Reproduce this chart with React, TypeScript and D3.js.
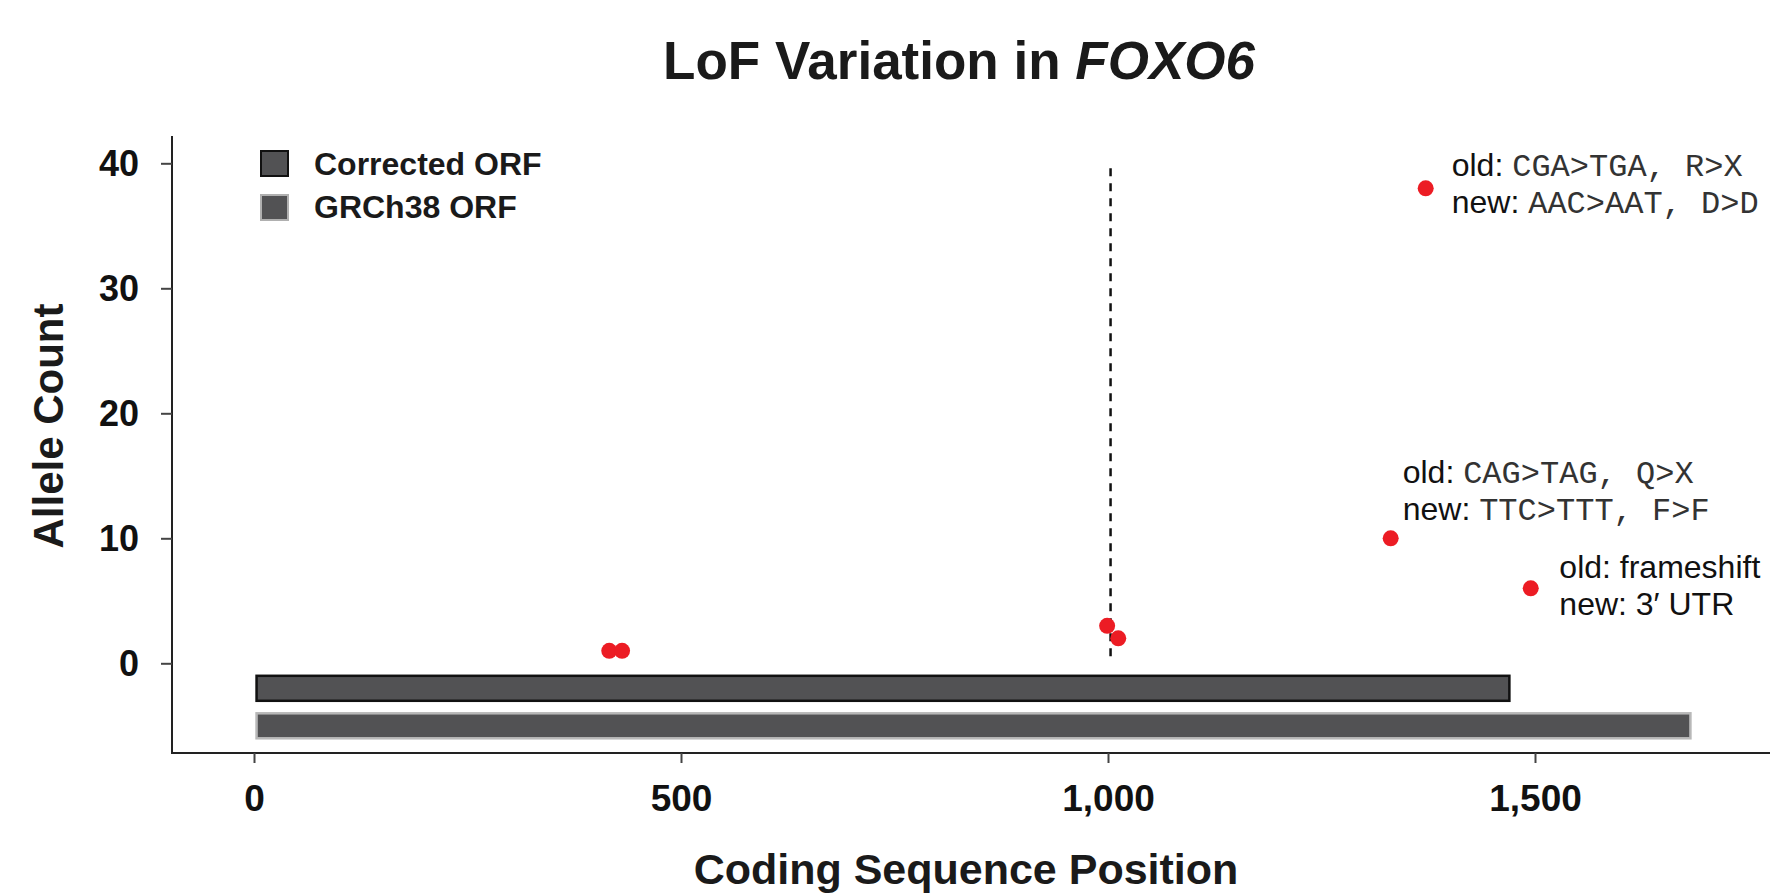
import React, { useEffect, useRef } from 'react';
import * as d3 from 'd3';

// variant positions (CDS) and allele counts
const variantPos = [416, 431, 999, 1012, 1331, 1372, 1495];
const alleleCounts = [1, 1, 3, 2, 10, 38, 6];

// ORF bars
const orfNames = ['Corrected ORF', 'GRCh38 ORF'];
const orfStart = [3, 3];
const orfEnd = [1470, 1682];
const orfTop = [-1, -4];
const orfBottom = [-3, -6];

const xTicks = [0, 500, 1000, 1500];
const yTicks = [0, 10, 20, 30, 40];
const frameshiftPos = 1003;

// labels next to some points: index into the variant arrays
const notePoint = [5, 4, 6];
const noteOld = ['CGA>TGA, R>X', 'CAG>TAG, Q>X', 'frameshift'];
const noteNew = ['AAC>AAT, D>D', 'TTC>TTT, F>F', '3\u2032 UTR'];
const noteMono = [true, true, false];

const W = 1770;
const H = 894;
const SANS = '"Liberation Sans", Arial, Helvetica, sans-serif';
const MONO = '"Liberation Mono", "Courier New", monospace';
const BAR_FILL = '#525254';
const RED = '#ec1c24';

const App = () => {
  const ref = useRef<SVGSVGElement | null>(null);

  useEffect(() => {
    const svg = d3.select(ref.current);
    svg.selectAll('*').remove();

    const x = d3.scaleLinear().domain([0, 1500]).range([254, 1535]);
    const y = d3.scaleLinear().domain([0, 40]).range([663.3, 163.3]);
    const axisX = 172;
    const axisY = 753;

    // title
    const title = svg.append('text')
      .attr('x', 959).attr('y', 79)
      .attr('text-anchor', 'middle')
      .attr('font-family', SANS).attr('font-weight', 'bold').attr('font-size', 53)
      .attr('fill', '#1a1a1a');
    title.append('tspan').text('LoF Variation in ');
    title.append('tspan').attr('font-style', 'italic').text('FOXO6');

    // axis lines
    svg.append('line')
      .attr('x1', axisX).attr('x2', axisX).attr('y1', 136).attr('y2', axisY + 1)
      .attr('stroke', '#222').attr('stroke-width', 2);
    svg.append('line')
      .attr('x1', axisX - 1).attr('x2', W).attr('y1', axisY).attr('y2', axisY)
      .attr('stroke', '#222').attr('stroke-width', 2);

    // x axis
    const gx = svg.append('g')
      .attr('transform', `translate(0,${axisY})`)
      .call(d3.axisBottom(x).tickValues(xTicks).tickSize(10).tickFormat(d3.format(',')));
    gx.select('.domain').remove();
    gx.selectAll('.tick line').attr('stroke', '#444').attr('stroke-width', 2);
    gx.selectAll('.tick text')
      .attr('y', 58).attr('dy', 0)
      .attr('font-family', SANS).attr('font-weight', 'bold').attr('font-size', 37)
      .attr('fill', '#111');

    // y axis
    const gy = svg.append('g')
      .attr('transform', `translate(${axisX},0)`)
      .call(d3.axisLeft(y).tickValues(yTicks).tickSize(11));
    gy.select('.domain').remove();
    gy.selectAll('.tick line').attr('stroke', '#444').attr('stroke-width', 2);
    gy.selectAll('.tick text')
      .attr('x', -33).attr('dy', 0).attr('y', 12.5)
      .attr('font-family', SANS).attr('font-weight', 'bold').attr('font-size', 36)
      .attr('fill', '#111');

    // axis titles
    svg.append('text')
      .attr('x', 966).attr('y', 884)
      .attr('text-anchor', 'middle')
      .attr('font-family', SANS).attr('font-weight', 'bold').attr('font-size', 43)
      .attr('fill', '#1a1a1a')
      .text('Coding Sequence Position');
    svg.append('text')
      .attr('transform', 'translate(63,426) rotate(-90)')
      .attr('text-anchor', 'middle')
      .attr('font-family', SANS).attr('font-weight', 'bold').attr('font-size', 42)
      .attr('fill', '#1a1a1a')
      .text('Allele Count');

    // ORF bars
    const strokes = ['#111', '#b8b8b8'];
    svg.selectAll('.orf')
      .data(orfNames)
      .enter().append('rect')
      .attr('class', 'orf')
      .attr('x', (d, i) => x(orfStart[i]))
      .attr('width', (d, i) => x(orfEnd[i]) - x(orfStart[i]))
      .attr('y', (d, i) => y(orfTop[i]))
      .attr('height', (d, i) => y(orfBottom[i]) - y(orfTop[i]))
      .attr('fill', BAR_FILL)
      .attr('stroke', (d, i) => strokes[i])
      .attr('stroke-width', 2.5);

    // dashed line at frameshift
    svg.append('line')
      .attr('x1', x(frameshiftPos)).attr('x2', x(frameshiftPos))
      .attr('y1', y(39.6)).attr('y2', y(0))
      .attr('stroke', '#111').attr('stroke-width', 2.5)
      .attr('stroke-dasharray', '8,7');

    // points
    svg.selectAll('.pt')
      .data(variantPos)
      .enter().append('circle')
      .attr('class', 'pt')
      .attr('cx', d => x(d))
      .attr('cy', (d, i) => y(alleleCounts[i]))
      .attr('r', 8)
      .attr('fill', RED);

    // notes
    const noteOffsets = [[26, -12], [12, -55], [28.6, -10]];
    const lineGap = 37;
    notePoint.forEach((p, i) => {
      const px = x(variantPos[p]) + noteOffsets[i][0];
      const py = y(alleleCounts[p]) + noteOffsets[i][1];
      [['old: ', noteOld[i]], ['new: ', noteNew[i]]].forEach(([lab, val], j) => {
        const t = svg.append('text')
          .attr('x', px).attr('y', py + j * lineGap)
          .attr('font-family', SANS).attr('font-size', 32)
          .attr('fill', '#111')
          .style('white-space', 'pre');
        t.append('tspan').text(lab);
        t.append('tspan')
          .attr('font-family', noteMono[i] ? MONO : SANS)
          .attr('fill', noteMono[i] ? '#333' : '#111')
          .text(val);
      });
    });

    // legend
    const legendStroke = ['#111', '#b0b0b0'];
    const lg = svg.append('g');
    orfNames.forEach((name, i) => {
      lg.append('rect')
        .attr('x', 261).attr('y', 151 + i * 44)
        .attr('width', 27).attr('height', 25)
        .attr('fill', BAR_FILL)
        .attr('stroke', legendStroke[i]).attr('stroke-width', 2);
      lg.append('text')
        .attr('x', 314).attr('y', 175 + i * 43)
        .attr('font-family', SANS).attr('font-weight', 'bold').attr('font-size', 32)
        .attr('fill', '#1a1a1a')
        .text(name);
    });
  }, []);

  return (
    <div style={{ position: 'absolute', left: 0, top: 0, width: W, height: H, background: '#fff' }}>
      <svg ref={ref} width={W} height={H} style={{ display: 'block' }}></svg>
    </div>
  );
};

export default App;
